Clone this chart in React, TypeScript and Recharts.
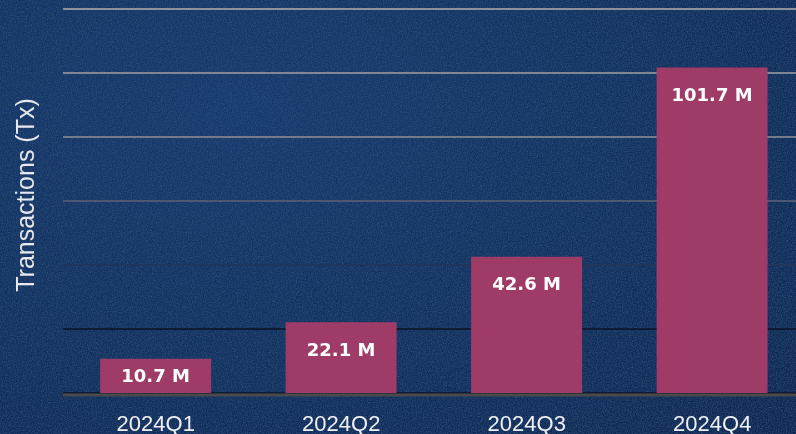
import React from 'react'
import {
  BarChart,
  Bar,
  XAxis,
  YAxis,
  CartesianGrid,
  LabelList
} from 'recharts'

const quarters = ['2024Q1', '2024Q2', '2024Q3', '2024Q4']
const transactions = [10.7, 22.1, 42.6, 101.7]
const yTicks = [0, 20, 40, 60, 80, 100, 120]

const data = quarters.map((q, i) => ({ quarter: q, tx: transactions[i] }))

const LABEL_FONT = '"DejaVu Sans", sans-serif'
const TEXT_FONT = '"Liberation Sans", Arial, sans-serif'

function BarLabel(props: any) {
  const { x, y, width, height, value } = props
  const cy = height < 60 ? y + height / 2 : y + 27
  return (
    <text
      x={x + width / 2}
      y={cy}
      textAnchor="middle"
      dominantBaseline="central"
      fill="#ffffff"
      fontFamily={LABEL_FONT}
      fontWeight={700}
      fontSize={18}
    >
      {`${value} M`}
    </text>
  )
}

function YLabel() {
  return (
    <text
      x={25}
      y={195}
      transform="rotate(-90, 25, 195)"
      textAnchor="middle"
      dominantBaseline="central"
      fill="#e6e8ee"
      fontFamily={TEXT_FONT}
      fontSize={25}
    >
      Transactions (Tx)
    </text>
  )
}

// y ticks are hidden, but they still have to exist for the grid
const NoTick = () => <g />

export default function App() {
  return (
    <div
      style={{
        position: 'fixed',
        left: 0,
        top: 0,
        width: 796,
        height: 434,
        overflow: 'hidden',
        background:
          'radial-gradient(ellipse at 30% 25%, #15386e 0%, #12305f 50%, #0d2550 100%)'
      }}
    >
      <svg
        width={796}
        height={434}
        style={{ position: 'absolute', left: 0, top: 0 }}
      >
        <filter id="noise">
          <feTurbulence
            type="fractalNoise"
            baseFrequency="0.8"
            numOctaves={3}
            seed={3}
          />
          <feColorMatrix
            type="matrix"
            values="0 0 0 0 0.03  0 0 0 0 0.09  0 0 0 0 0.2  1.4 0 0 0 -0.45"
          />
        </filter>
        <rect width={796} height={434} filter="url(#noise)" />
      </svg>
      <div style={{ position: 'absolute', left: 0, top: 0 }}>
        <BarChart
          width={830}
          height={434}
          data={data}
          margin={{ top: 9, right: 25, bottom: 0, left: 0 }}
          barCategoryGap="20%"
        >
          <defs>
            <linearGradient
              id="gridFade"
              gradientUnits="userSpaceOnUse"
              x1={0}
              y1={9}
              x2={0}
              y2={393}
            >
              <stop offset="0" stopColor="#8c919c" />
              <stop offset="0.34" stopColor="#737a8a" />
              <stop offset="0.5" stopColor="#4c5772" />
              <stop offset="0.67" stopColor="#1f355c" />
              <stop offset="0.83" stopColor="#0f1b34" />
              <stop offset="1" stopColor="#0f1b34" />
            </linearGradient>
          </defs>
          <CartesianGrid
            vertical={false}
            stroke="url(#gridFade)"
            strokeWidth={2}
          />
          <XAxis
            dataKey="quarter"
            height={41}
            tickLine={false}
            tickSize={0}
            tickMargin={22}
            axisLine={{
              stroke: '#4a4a4a',
              strokeWidth: 3,
              transform: 'translate(0,2)'
            }}
            tick={{ fill: '#eef0f4', fontSize: 22, fontFamily: TEXT_FONT }}
          />
          <YAxis
            domain={[0, 120]}
            ticks={yTicks}
            interval={0}
            width={63}
            tick={NoTick}
            axisLine={false}
            tickLine={false}
            label={<YLabel />}
          />
          <Bar dataKey="tx" fill="#9f3b67" isAnimationActive={false}>
            <LabelList dataKey="tx" content={<BarLabel />} />
          </Bar>
        </BarChart>
      </div>
    </div>
  )
}
